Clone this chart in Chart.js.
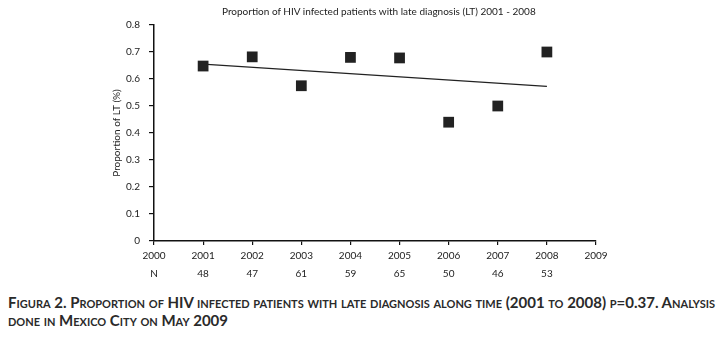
<!DOCTYPE html>
<html>
<head>
<meta charset="utf-8">
<script src="https://cdn.jsdelivr.net/npm/chart.js@4/dist/chart.umd.min.js"></script>
<style>
  body { margin: 0; background: #fff; }
  #wrap { position: relative; width: 719px; height: 338px; }
  #chartBox { position: absolute; left: 0; top: 0; width: 719px; height: 290px; }
  #chartTitle {
    position: absolute; left: 222px; top: 5px; width: 300px; text-align: center;
    font-family: Lato, "Open Sans", sans-serif; font-size: 10px; color: #222; white-space: nowrap;
  }
  #caption {
    position: absolute; left: 8px; top: 293px; width: 711px;
    font-family: Lato, "Open Sans", sans-serif; font-weight: bold; font-variant: small-caps;
    font-size: 15px; line-height: 18px; color: #2a2a2a; white-space: nowrap;
  }
</style>
</head>
<body>
<div id="wrap">
  <div id="chartBox"><canvas id="lateChart"></canvas></div>
  <div id="chartTitle">Proportion of HIV infected patients with late diagnosis (LT) 2001 - 2008</div>
  <div id="caption">Figura 2. Proportion of HIV infected patients with late diagnosis along time (2001 to 2008) p=0.37. Analysis<br>done in Mexico City on May 2009</div>
</div>
<script>
// data
const years = [2001, 2002, 2003, 2004, 2005, 2006, 2007, 2008];
const proportions = [0.648, 0.682, 0.575, 0.680, 0.678, 0.440, 0.500, 0.700];
const nPatients = [48, 47, 61, 59, 65, 50, 46, 53];
const trendYears = [2001, 2008];
const trendValues = [0.655, 0.573];

const fontFam = 'Lato, "Open Sans", sans-serif';

// N row under the year labels
function nLabel(year) {
    if (year === 2000) return 'N';
    const i = years.indexOf(year);
    return i >= 0 ? String(nPatients[i]) : '';
}

const ctx = document.getElementById('lateChart').getContext('2d');
const chart = new Chart(ctx, {
    type: 'scatter',
    data: {
        datasets: [{
            label: 'Proportion',
            data: years.map((y, i) => ({ x: y, y: proportions[i] })),
            pointStyle: 'rect',
            pointRadius: 7.6,
            pointHoverRadius: 7.6,
            backgroundColor: '#222',
            borderColor: '#222',
            borderWidth: 0
        }, {
            label: 'Trend',
            data: trendYears.map((y, i) => ({ x: y, y: trendValues[i] })),
            showLine: true,
            borderColor: '#222',
            borderWidth: 1.2,
            pointRadius: 0
        }]
    },
    options: {
        responsive: true,
        maintainAspectRatio: false,
        animation: false,
        layout: { padding: { left: 111, right: 123, top: 25, bottom: 0 } },
        plugins: {
            legend: { display: false },
            tooltip: { enabled: false },
            title: { display: false }
        },
        scales: {
            x: {
                type: 'linear',
                min: 2000,
                max: 2009,
                afterFit: (scale) => { scale.height = 49; },
                ticks: {
                    stepSize: 1,
                    color: '#222',
                    padding: 2,
                    maxRotation: 0,
                    autoSkip: false,
                    font: { family: fontFam, size: 10, lineHeight: 1.8 },
                    callback: (v) => [String(v), nLabel(v)]
                },
                grid: { drawOnChartArea: false, drawTicks: true, tickLength: 4, color: '#111', lineWidth: 1.2 },
                border: { color: '#111', width: 1.5 }
            },
            y: {
                min: 0,
                max: 0.8,
                afterFit: (scale) => { scale.width = 43; },
                ticks: {
                    stepSize: 0.1,
                    color: '#222',
                    padding: 9,
                    font: { family: fontFam, size: 10 },
                    callback: (v) => (Math.round(v * 10) / 10).toString()
                },
                title: {
                    display: true,
                    text: 'Proportion of LT (%)',
                    color: '#222',
                    font: { family: fontFam, size: 10 },
                    padding: 0
                },
                grid: { drawOnChartArea: false, drawTicks: true, tickLength: 5, color: '#111', lineWidth: 1.2 },
                border: { color: '#111', width: 1.5 }
            }
        }
    }
});
</script>
</body>
</html>
